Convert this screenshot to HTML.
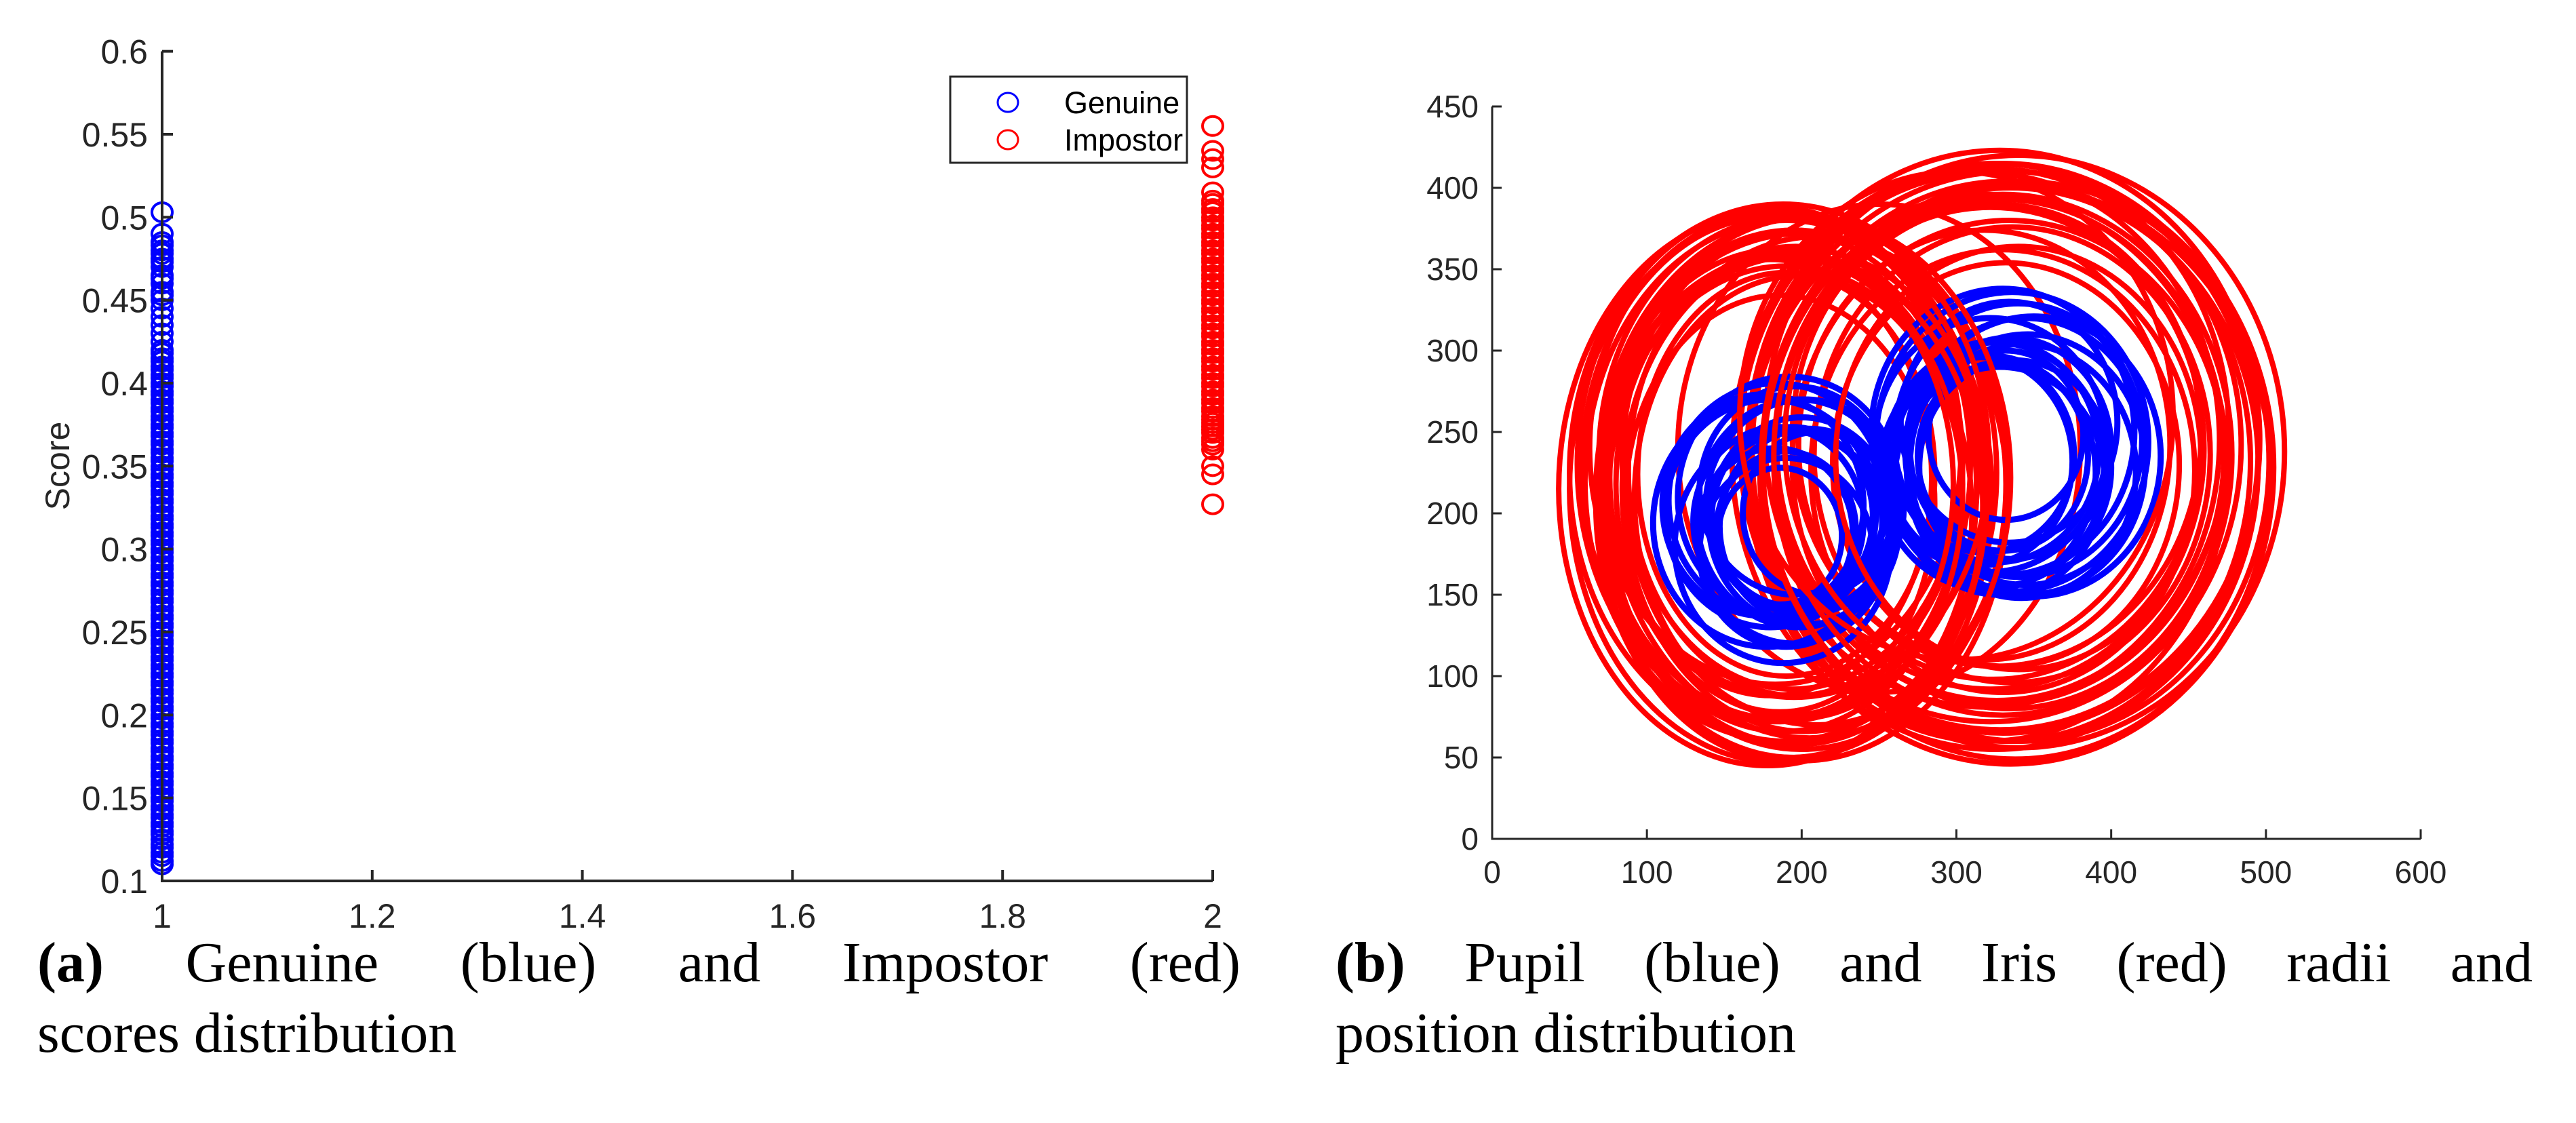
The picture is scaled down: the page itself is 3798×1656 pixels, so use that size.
<!DOCTYPE html>
<html><head><meta charset="utf-8">
<style>
html,body{margin:0;padding:0;background:#fff;}
body{width:3798px;height:1656px;position:relative;overflow:hidden;}
svg{position:absolute;left:0;top:0;}
.cap{position:absolute;font-family:"Liberation Serif",serif;font-size:84px;line-height:104px;color:#000;white-space:nowrap;}
.j{text-align:justify;text-align-last:justify;}
</style></head><body>
<svg id="chart" width="3798" height="1656" xmlns="http://www.w3.org/2000/svg" font-family="Liberation Sans, sans-serif"></svg>
<div class="cap" style="left:55px;top:1368px;width:1774px;"><div class="j"><b>(a)</b> Genuine (blue) and Impostor (red)</div><div>scores distribution</div></div>
<div class="cap" style="left:1969px;top:1368px;width:1765px;"><div class="j"><b>(b)</b> Pupil (blue) and Iris (red) radii and</div><div>position distribution</div></div>
<script>
// ---- Chart A data ----
const xTicksA = [1, 1.2, 1.4, 1.6, 1.8, 2];
const yTicksA = [0.1, 0.15, 0.2, 0.25, 0.3, 0.35, 0.4, 0.45, 0.5, 0.55, 0.6];
const genuineScores = [0.11,0.112,0.115,0.117,0.12,0.122,0.125,0.128,0.13,0.133,0.135,0.138,0.14,0.143,0.145,0.148,0.15,0.153,0.155,0.158,0.16,0.163,0.165,0.168,0.17,0.173,0.175,0.178,0.18,0.183,0.185,0.188,0.19,0.193,0.195,0.198,0.2,0.203,0.205,0.208,0.21,0.213,0.215,0.218,0.22,0.223,0.225,0.228,0.23,0.233,0.235,0.238,0.24,0.243,0.245,0.248,0.25,0.253,0.255,0.258,0.26,0.263,0.265,0.268,0.27,0.273,0.275,0.278,0.28,0.283,0.285,0.288,0.29,0.293,0.295,0.298,0.3,0.303,0.305,0.308,0.31,0.313,0.315,0.318,0.32,0.323,0.325,0.328,0.33,0.333,0.335,0.338,0.34,0.343,0.345,0.348,0.35,0.353,0.355,0.358,0.36,0.363,0.365,0.368,0.37,0.373,0.375,0.378,0.38,0.383,0.385,0.388,0.39,0.393,0.395,0.398,0.4,0.403,0.405,0.408,0.41,0.413,0.415,0.418,0.42,0.425,0.43,0.435,0.44,0.445,0.45,0.453,0.455,0.46,0.463,0.465,0.47,0.473,0.475,0.478,0.48,0.483,0.485,0.49,0.503];
const impostorScores = [0.327,0.345,0.35,0.36,0.363,0.365,0.367,0.37,0.372,0.374,0.376,0.378,0.38,0.383,0.385,0.388,0.39,0.393,0.395,0.398,0.4,0.403,0.405,0.408,0.41,0.413,0.415,0.418,0.42,0.423,0.425,0.428,0.43,0.433,0.435,0.438,0.44,0.443,0.445,0.448,0.45,0.453,0.455,0.458,0.46,0.463,0.465,0.468,0.47,0.473,0.475,0.478,0.48,0.483,0.485,0.488,0.49,0.493,0.495,0.498,0.5,0.503,0.505,0.508,0.51,0.515,0.53,0.535,0.54,0.555];
// ---- Chart B data ----
const xTicksB = [0,100,200,300,400,500,600];
const yTicksB = [0,50,100,150,200,250,300,350,400,450];
const irisX  = [185,190,195,188,192,200,182,197,205,178,190,186,195,200,210,183,188,192,196,180,202,186,194,190,184,198,
                325,330,335,328,320,340,332,326,338,322,330,335,318,342,300,250,328,334,324,336,330,322,340,326,332,318];
const irisY  = [215,220,212,225,205,218,230,208,222,215,200,228,235,210,220,240,212,218,226,222,214,206,232,224,218,210,
                235,240,230,245,228,238,232,250,225,242,236,228,245,232,260,240,238,230,244,236,226,240,234,248,230,242];
const irisRX = [135,130,128,138,125,132,127,122,130,135,120,128,126,133,124,120,116,112,108,104,118,100,110,96,114,106,
                170,165,160,168,155,172,158,150,165,162,148,170,152,160,140,130,145,140,135,128,124,138,118,132,112,120];
const irisRY = [168,160,162,165,155,163,158,150,160,170,152,156,148,162,150,145,146,142,138,134,148,128,140,124,144,136,
                180,175,170,178,168,182,172,165,176,170,160,182,164,172,150,150,155,150,146,140,136,148,130,142,124,132];
const pupilX  = [190,185,195,180,200,188,175,205,192,183,198,186,194,178,202,190,210,196,184,
                 330,335,325,340,320,345,330,338,322,328,350,315,332,342,326,336,318,346,334];
const pupilY  = [190,195,185,200,195,180,205,192,210,188,200,186,198,194,204,176,200,214,208,
                 235,240,230,245,225,238,250,228,242,220,235,232,248,226,238,244,236,230,256];
const pupilRX = [45,55,62,68,60,70,65,58,72,50,66,40,52,74,64,56,48,62,70,
                 55,65,72,80,70,78,85,62,75,68,82,60,50,74,66,88,58,76,70];
const pupilRY = [48,58,65,70,64,72,68,60,74,52,70,42,55,76,66,58,50,64,72,
                 58,68,75,84,72,82,88,66,78,70,86,64,52,78,68,92,60,80,74];

const NS = "http://www.w3.org/2000/svg";
const svg = document.getElementById('chart');
function mk(tag, attrs, parent){ const e=document.createElementNS(NS,tag); for(const k in attrs) e.setAttribute(k,attrs[k]); (parent||svg).appendChild(e); return e; }

const xA = v => 239 + (v-1)*1549;
const yA = v => 1299 - (v-0.1)*2446.7;
const xB = v => 2200 + v*2.2817;
const yB = v => 1237 - v*2.4;

const gA = mk('g',{});


const gen = mk('g',{fill:'none',stroke:'#0000ff','stroke-width':4},gA);


genuineScores.forEach(v=>{
  const c=mk('ellipse',{cx:xA(1),cy:yA(v),rx:15,ry:14},gen);
  
  
});
const imp = mk('g',{fill:'none',stroke:'#ff0000','stroke-width':4},gA);


impostorScores.forEach(v=>{
  const c=mk('ellipse',{cx:xA(2),cy:yA(v),rx:15,ry:14},imp);
  
  
});
const axA = mk('path',{d:`M${xA(1)},${yA(0.6)} V${yA(0.1)} H${xA(2)}`,fill:'none',stroke:'#262626','stroke-width':4},gA);


yTicksA.forEach(v=>{
  mk('line',{x1:xA(1),x2:xA(1)+16,y1:yA(v),y2:yA(v),stroke:'#262626','stroke-width':4},gA);
  const t=mk('text',{x:218,y:yA(v)+18,'text-anchor':'end','font-size':50,fill:'#262626'},gA);
  t.textContent=String(v);
  
  
});
xTicksA.forEach(v=>{
  mk('line',{x1:xA(v),x2:xA(v),y1:yA(0.1),y2:yA(0.1)-16,stroke:'#262626','stroke-width':4},gA);
  const t=mk('text',{x:xA(v),y:1368,'text-anchor':'middle','font-size':50,fill:'#262626'},gA);
  t.textContent=String(v);
  
  
});
const yl = mk('text',{x:0,y:0,transform:'translate(102,687) rotate(-90)','text-anchor':'middle','font-size':50,fill:'#262626'},gA);
yl.textContent='Score';


const lg = mk('g',{},gA);


mk('rect',{x:1401,y:113,width:349,height:127,fill:'#fff',stroke:'#262626','stroke-width':3},lg);
const l1c=mk('ellipse',{cx:1486,cy:151,rx:15,ry:14,fill:'none',stroke:'#0000ff','stroke-width':3},lg);


const l1=mk('text',{x:1569,y:167,'font-size':45,fill:'#000'},lg); l1.textContent='Genuine';


const l2c=mk('ellipse',{cx:1486,cy:206,rx:15,ry:14,fill:'none',stroke:'#ff0000','stroke-width':3},lg);


const l2=mk('text',{x:1569,y:222,'font-size':45,fill:'#000'},lg); l2.textContent='Impostor';



const gB = mk('g',{});


const ir = mk('g',{fill:'none',stroke:'#ff0000','stroke-width':8},gB);


const pu = mk('g',{fill:'none',stroke:'#0000ff','stroke-width':9},gB);


const ir2 = mk('g',{fill:'none',stroke:'#ff0000','stroke-width':8},gB);


irisX.forEach((cx,i)=>{
  const e=mk('ellipse',{cx:xB(cx),cy:yB(irisY[i]),rx:irisRX[i]*2.2817,ry:irisRY[i]*2.4},(i%4===0)?ir2:ir);
  
  
});
pupilX.forEach((cx,i)=>{
  const e=mk('ellipse',{cx:xB(cx),cy:yB(pupilY[i]),rx:pupilRX[i]*2.2817,ry:pupilRY[i]*2.4},pu);
  
  
});
const axB = mk('path',{d:`M${xB(0)},${yB(450)} V${yB(0)} H${xB(600)}`,fill:'none',stroke:'#262626','stroke-width':3},gB);


yTicksB.forEach(v=>{
  mk('line',{x1:xB(0),x2:xB(0)+14,y1:yB(v),y2:yB(v),stroke:'#262626','stroke-width':3},gB);
  const t=mk('text',{x:2180,y:yB(v)+16,'text-anchor':'end','font-size':46,fill:'#262626'},gB);
  t.textContent=String(v);
  
  
});
xTicksB.forEach(v=>{
  mk('line',{x1:xB(v),x2:xB(v),y1:yB(0),y2:yB(0)-14,stroke:'#262626','stroke-width':3},gB);
  const t=mk('text',{x:xB(v),y:1302,'text-anchor':'middle','font-size':46,fill:'#262626'},gB);
  t.textContent=String(v);
  
  
});
</script>
</body></html>
